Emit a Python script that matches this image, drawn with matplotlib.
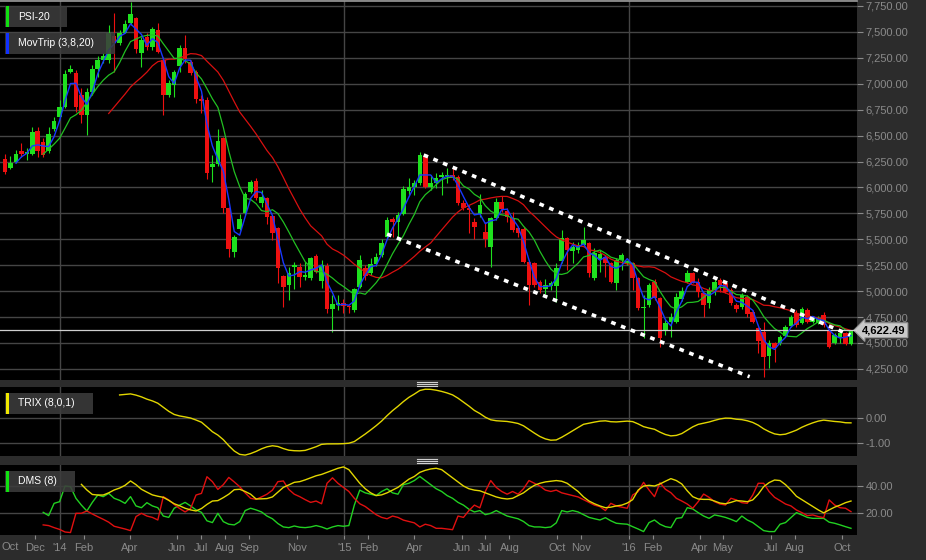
import matplotlib
matplotlib.use("Agg")
import matplotlib.pyplot as plt
import matplotlib.dates as mdates
from matplotlib.patches import Rectangle
from matplotlib.lines import Line2D
from matplotlib.ticker import FixedLocator, FixedFormatter
import numpy as np
import pandas as pd

plt.rcParams['font.family'] = ['Liberation Sans', 'DejaVu Sans']

# weekly PSI-20 candles
dates = pd.date_range("2013-10-23", periods=156, freq="7D")
opens = [6272, 6190, 6250, 6355, 6323, 6323, 6545, 6442, 6352, 6560,
         6677, 6773, 7117, 7107, 6892, 6699, 6924, 7139, 7229, 7229,
         7460, 7390, 7492, 7590, 7632, 7300, 7448, 7358, 7519, 7229,
         6892, 6990, 7171, 7342, 7213, 7117, 6853, 6843, 6201, 6223,
         6474, 5799, 5381, 5600, 5751, 5960, 6063, 5847, 5895, 5725,
         5606, 5146, 5060, 5230, 5236, 5134, 5124, 5339, 5102, 5246,
         4825, 4870, 4885, 4855, 4818, 5044, 5227, 5172, 5262, 5349,
         5519, 5696, 5670, 5744, 5969, 6008, 6040, 6303, 6008, 6047,
         6104, 6110, 6120, 6104, 5853, 5799, 5670, 5744, 5574, 5423,
         5703, 5863, 5777, 5703, 5606, 5597, 5285, 5268, 5092, 5018,
         5050, 5050, 5294, 5510, 5391, 5397, 5445, 5461, 5124, 5301,
         5326, 5268, 5076, 5301, 5270, 5269, 5124, 4835, 4867, 5092,
         4931, 4626, 4706, 4706, 4920, 5092, 5172, 5092, 4979, 4883,
         5012, 5108, 5076, 5012, 4867, 4851, 4947, 4803, 4642, 4610,
         4375, 4497, 4497, 4568, 4664, 4793, 4696, 4819, 4706, 4690,
         4770, 4626, 4504, 4561, 4594, 4487]
highs = [6320, 6300, 6365, 6425, 6380, 6585, 6585, 6475, 6585, 6683,
         6844, 7133, 7181, 7133, 6956, 6956, 7181, 7268, 7300, 7567,
         7680, 7519, 7615, 7792, 7647, 7454, 7486, 7551, 7583, 7262,
         7036, 7133, 7374, 7470, 7229, 7133, 6892, 6876, 6313, 6561,
         6490, 5815, 5542, 5744, 5960, 6072, 6088, 5976, 5911, 5735,
         5622, 5156, 5230, 5285, 5268, 5285, 5333, 5358, 5301, 5268,
         4963, 4963, 4922, 4870, 5028, 5349, 5252, 5317, 5365, 5500,
         5719, 5719, 5767, 6014, 6088, 6072, 6345, 6323, 6120, 6136,
         6153, 6185, 6185, 6120, 5879, 5831, 5703, 5937, 5670, 5719,
         5895, 5918, 5799, 5767, 5622, 5622, 5301, 5285, 5108, 5114,
         5100, 5268, 5590, 5526, 5477, 5477, 5622, 5477, 5413, 5397,
         5349, 5285, 5317, 5365, 5300, 5285, 5140, 4963, 5076, 5114,
         4947, 4722, 4787, 4979, 5037, 5204, 5188, 5124, 4995, 5044,
         5114, 5124, 5092, 5028, 4883, 4979, 4963, 4819, 4658, 4706,
         4529, 4513, 4578, 4674, 4770, 4819, 4844, 4835, 4760, 4760,
         4803, 4642, 4594, 4620, 4610, 4626]
lows = [6130, 6175, 6233, 6297, 6260, 6313, 6297, 6297, 6335, 6548,
        6667, 6763, 7100, 6731, 6619, 6506, 6892, 7069, 7200, 7197,
        7117, 7374, 7487, 7567, 7294, 7165, 7326, 7326, 7294, 6699,
        6876, 6876, 7117, 7197, 7085, 6811, 6715, 6079, 6056, 6207,
        5757, 5326, 5326, 5590, 5735, 5944, 5879, 5815, 5645, 5494,
        5076, 4851, 4915, 5018, 5044, 5108, 5108, 5172, 5028, 4793,
        4610, 4819, 4787, 4790, 4800, 5028, 5108, 5156, 5243, 5333,
        5500, 5526, 5526, 5735, 5928, 5928, 6024, 5992, 5976, 5992,
        5928, 6040, 6072, 5831, 5783, 5558, 5500, 5719, 5429, 5236,
        5687, 5767, 5670, 5574, 5526, 5268, 4867, 5037, 4979, 4973,
        5012, 4899, 5268, 5204, 5275, 5365, 5436, 5134, 5108, 5188,
        5140, 5076, 5012, 5204, 5250, 5012, 4819, 4545, 4851, 4915,
        4465, 4578, 4562, 4690, 4908, 5076, 5076, 4947, 4754, 4835,
        4963, 4995, 4979, 4867, 4803, 4825, 4754, 4690, 4401, 4176,
        4256, 4320, 4481, 4555, 4652, 4658, 4684, 4690, 4690, 4680,
        4658, 4449, 4491, 4504, 4481, 4481]
closes = [6146, 6240, 6320, 6323, 6345, 6532, 6355, 6313, 6513, 6644,
          6773, 7094, 7139, 6780, 6699, 6924, 7139, 7229, 7268, 7486,
          7397, 7486, 7577, 7673, 7332, 7422, 7358, 7525, 7310, 6892,
          7004, 7110, 7342, 7236, 7101, 6853, 6834, 6143, 6223, 6448,
          5799, 5407, 5519, 5693, 5937, 6050, 5895, 5911, 5719, 5558,
          5220, 5044, 5172, 5252, 5140, 5156, 5317, 5188, 5252, 4825,
          4877, 4890, 4855, 4845, 5018, 5301, 5146, 5262, 5333, 5468,
          5686, 5670, 5735, 5982, 6008, 6040, 6313, 6008, 6040, 6088,
          6120, 6120, 6088, 5847, 5799, 5783, 5622, 5831, 5500, 5703,
          5863, 5790, 5719, 5590, 5558, 5285, 5060, 5060, 5012, 5060,
          5082, 5220, 5510, 5397, 5429, 5445, 5494, 5172, 5365, 5358,
          5268, 5092, 5301, 5349, 5290, 5124, 4835, 4851, 5060, 4931,
          4546, 4696, 4754, 4947, 5005, 5178, 5082, 4995, 4867, 5012,
          5092, 5060, 4995, 4889, 4825, 4963, 4777, 4706, 4523, 4369,
          4497, 4449, 4561, 4652, 4748, 4674, 4825, 4706, 4738, 4738,
          4674, 4465, 4578, 4600, 4491, 4622.49]

last_price = 4622.49

# DMS (8) lines, one value per week
di_start = 7
plus_di = [20.7, 18.3, 27.3, 28.5, 40, 39.5, 31, 26, 21.7, 28,
           33.4, 32.2, 34.6, 31, 29.5, 27.3, 32.2, 25.4, 24.1, 27.8,
           25.4, 24.1, 18, 17, 23.7, 26, 28, 25.4, 22.5, 20.7,
           14.5, 13.2, 20, 13.9, 12, 11.5, 13.9, 22, 23.7, 22.5,
           21, 18, 16, 12.5, 10, 9.5, 10.7, 9.8,
           9.5, 10, 11, 10, 8.5, 10, 11, 10.5, 11, 26,
           37, 35, 34, 33, 36, 38, 35, 34, 41, 42,
           44, 47, 44, 41, 38, 36, 33, 31, 28, 26,
           23, 21, 22, 19, 20, 22, 20, 18, 17, 16,
           14, 11, 10, 10, 9.5, 10, 13, 22, 21, 22,
           21, 19, 17, 16,
           15.1, 16.8, 14.5, 12.7, 12.3, 12, 10.2, 8.5, 6.6, 13.2,
           15.1, 12, 10.2, 9.5, 16.3, 16.8, 24.1, 23.2, 20.5, 18,
           16.3, 18.8, 18, 17, 15.6, 13.9, 18, 15.1, 13.2, 10.2,
           7.3, 6.6, 6.6, 12, 13.2, 16.8, 20.5, 18.8, 17, 16.3,
           16.3, 16.3, 13.5, 12.7, 11.5, 10.2, 9]
minus_di = [11.5, 11, 9.5, 8.2, 6.3, 5.9, 20, 20, 21.7, 19.5,
            17.5, 15.6, 13.5, 10.5, 9.5, 8.5, 7.3, 17.6, 20, 18,
            17, 15.1, 32.2, 29.8, 26.5, 23.5, 21, 23.5, 33.4, 34.6,
            46.8, 43.2, 37.5, 41, 46.3, 43, 39.5, 35, 31, 30.2,
            32, 34, 37, 43.2, 43.7, 37.5, 34, 32.2,
            30, 28, 29, 27, 42, 46, 42, 39, 36, 31,
            27, 25, 22, 19, 17, 16, 18, 17, 15, 14,
            13, 10, 12, 11, 9, 9, 8.5, 8, 18, 17,
            22, 26, 24, 36, 44, 39, 36, 34, 36, 34,
            38, 44, 42, 40, 37, 36, 37, 35, 34, 33,
            32, 30, 28, 26,
            24.9, 22, 27.3, 25.4, 24.5, 23.7, 33.4, 35.9, 42.7, 37.1,
            32.2, 42.4, 37.6, 35.1, 31, 29, 26.8, 23.7, 28.5, 34.1,
            31.7, 28.5, 26.8, 26.1, 31, 29.8, 27.8, 27.3, 33.4, 42,
            42, 35.9, 31.7, 29.3, 26.8, 25.4, 22.4, 20.5, 18.3, 18.8,
            17.6, 16.8, 29.8, 26.1, 24.1, 23.7, 21.2]
adx_start = 14
adx = [41.2, 37.1, 33.8, 33.4, 33.4, 35, 37.1, 38.5, 40.5, 43.7,
       41, 37.6, 35.5, 33.5, 32.5, 31.7, 29.5, 27, 25.5, 23.7,
       22.5, 21.7, 23.5, 26.5, 29, 29.3, 31.5, 34, 37.3, 37.6,
       36, 34, 30.5, 30.6, 30.8, 32, 35.5, 39, 40.8, 42.7, 43.2,
       44.5, 46, 47.5, 48.5, 50, 51.5, 53, 54, 52, 47,
       42, 38, 35, 33, 33.5, 35, 37, 39, 42, 45,
       47, 50, 51.5, 52.5, 53, 52, 49, 46, 43, 40,
       38, 37, 36.5, 35, 33.5, 32, 31, 30.5, 31, 33,
       35, 38, 40.5, 42, 43, 43.5, 44, 43.5, 42, 39,
       36, 32, 29, 27,
       25.4, 24.1, 24.5, 25.4, 26, 27.5, 30, 37, 40, 40.5,
       40, 41.5, 43.5, 45.4, 44, 41.5, 36.5, 32.2, 30.5, 30.2,
       30.2, 29, 27.5, 27, 28, 29.3, 29, 28.5, 29.8, 34,
       39.5, 42.5, 44.4, 44, 41, 37, 32.5, 30, 27.5, 25,
       22.5, 20.3, 22.5, 24.5, 26, 27.8, 29]

# channel drawn on the chart (date, price)
upper_channel = (["2015-04-13", "2016-10-11"], [6313, 4577])
lower_channel = (["2015-02-25", "2016-06-04"], [5550, 4175])

price_ticks = list(range(4250, 7751, 250))
trix_ticks = [0.0, -1.0]
dms_ticks = [20.0, 40.0]

month_ticks = ["2013-12-01", "2014-01-01", "2014-02-01", "2014-04-01", "2014-06-01",
               "2014-07-01", "2014-08-01", "2014-09-01", "2014-11-01", "2015-01-01",
               "2015-02-01", "2015-04-01", "2015-06-01", "2015-07-01", "2015-08-01",
               "2015-10-01", "2015-11-01", "2016-01-01", "2016-02-01", "2016-04-01",
               "2016-05-01", "2016-07-01", "2016-08-01", "2016-10-01"]
month_labels = ["Dec", "'14", "Feb", "Apr", "Jun", "Jul", "Aug", "Sep", "Nov", "'15",
                "Feb", "Apr", "Jun", "Jul", "Aug", "Oct", "Nov", "'16", "Feb", "Apr",
                "May", "Jul", "Aug", "Oct"]
year_lines = ["2014-01-01", "2015-01-01", "2016-01-01"]

# colours
BG = '#2c2c2c'
GRID = '#454545'
TXT = '#8a8a8a'
UP = '#1ee01e'
DOWN = '#ee1010'
YELLOW = '#e2d600'

W, H = 926, 560
fig = plt.figure(figsize=(W / 100, H / 100), dpi=100, facecolor=BG)


def box(x0, y0, x1, y1):
    return [x0 / W, 1 - y1 / H, (x1 - x0) / W, (y1 - y0) / H]


ax = fig.add_axes(box(0, 1, 857, 380))
ax_t = fig.add_axes(box(0, 387, 857, 456), sharex=ax)
ax_d = fig.add_axes(box(0, 465, 857, 535), sharex=ax)

x = mdates.date2num(dates)
o, h, l, c = (np.array(v, dtype=float) for v in (opens, highs, lows, closes))
cols = np.where(c >= o, UP, DOWN)

# candles
ax.vlines(x, l, h, colors=cols, lw=0.8, zorder=2)
ax.bar(x, np.maximum(np.abs(c - o), 8), bottom=np.minimum(o, c), width=5.9,
       color=cols, linewidth=0, zorder=3)

# MovTrip (3,8,20)
s = pd.Series(c)
ax.plot(x, s.rolling(20).mean(), color='#d81010', lw=0.9, zorder=4)
ax.plot(x, s.rolling(8).mean(), color='#22c022', lw=0.9, zorder=4)
ax.plot(x, s.rolling(3).mean(), color='#1838ff', lw=1.0, zorder=5)

# channel
for d, p in (upper_channel, lower_channel):
    ax.plot(mdates.date2num(pd.to_datetime(d)), p, color='white', lw=2.6,
            dashes=(1.3, 1.6), solid_capstyle='butt', zorder=6)

ax.axhline(last_price, color='#cfcfcf', lw=0.9, zorder=4)
ax.annotate(f"{last_price:,.2f}", xy=(1.0, last_price),
            xycoords=('axes fraction', 'data'), xytext=(3.5, 0),
            textcoords='offset points', ha='left', va='center', fontsize=8,
            fontweight='bold', color='black', annotation_clip=False,
            bbox=dict(boxstyle='larrow,pad=0.22', fc='#c9c9c9', ec='#9a9a9a', lw=0.8))

# TRIX (8,0,1) from the closes
e1 = s.ewm(span=8, adjust=False).mean()
e2 = e1.ewm(span=8, adjust=False).mean()
e3 = e2.ewm(span=8, adjust=False).mean()
trix = e3.pct_change() * 100
trix[:21] = np.nan
ax_t.plot(x, trix, color=YELLOW, lw=1.0)

# DMS (8)
ax_d.plot(x[di_start:], plus_di, color='#22d022', lw=1.0)
ax_d.plot(x[di_start:], minus_di, color='#e01010', lw=1.0)
ax_d.plot(x[adx_start:], adx, color=YELLOW, lw=1.0)

# axes styling
ax.set_xlim(x[0] - 6.4, x[-1] + 7.7)
ax.set_ylim(4143, 7798)
ax_t.set_ylim(-1.51, 1.21)
ax_d.set_ylim(4.1, 55.4)

for a, ticks, fmt in ((ax, price_ticks, lambda v: f"{v:,.2f}"),
                      (ax_t, trix_ticks, lambda v: f"{v:.2f}"),
                      (ax_d, dms_ticks, lambda v: f"{v:.2f}")):
    a.set_facecolor('black')
    for sp in a.spines.values():
        sp.set_visible(False)
    a.yaxis.tick_right()
    a.yaxis.set_major_locator(FixedLocator(ticks))
    a.yaxis.set_major_formatter(FixedFormatter([fmt(v) for v in ticks]))
    a.tick_params(axis='y', colors=TXT, labelsize=8, length=4, width=0.8, pad=2)
    a.grid(axis='y', color=GRID, lw=1.0)
    a.set_axisbelow(True)
    for d in year_lines:
        a.axvline(mdates.date2num(pd.Timestamp(d)), color=GRID, lw=1.0, zorder=0.5)

ax.spines['top'].set_visible(True)
ax.spines['top'].set_color('#9a9a9a')
ax.spines['top'].set_linewidth(1.2)

for a in (ax, ax_t):
    a.tick_params(axis='x', length=0, labelbottom=False)
ax_d.xaxis.set_major_locator(FixedLocator(mdates.date2num(pd.to_datetime(month_ticks))))
ax_d.xaxis.set_major_formatter(FixedFormatter(month_labels))
ax_d.tick_params(axis='x', colors=TXT, labelsize=8, length=3, width=0.8, pad=3)
fig.text(1 / W, 1 - 547 / H, "Oct", color=TXT, fontsize=8, ha='left', va='center')

# divider grips
for yc in (383.5, 461):
    for dy in (-2, 0, 2):
        fig.add_artist(Line2D([417 / W, 437 / W], [1 - (yc + dy) / H] * 2,
                              color='#d0d0d0', lw=0.8))


def legend_box(x0p, y0p, x1p, y1p, colour, text):
    fig.add_artist(Rectangle((x0p / W, 1 - y1p / H), (x1p - x0p) / W, (y1p - y0p) / H,
                             transform=fig.transFigure, fc='#3c3c3c', ec='none',
                             alpha=0.88, zorder=10))
    fig.add_artist(Rectangle(((x0p + 1) / W, 1 - y1p / H), 2.6 / W, (y1p - y0p) / H,
                             transform=fig.transFigure, fc=colour, ec='none', zorder=11))
    fig.text((x0p + 13) / W, 1 - (y0p + y1p) / 2 / H, text, color='white',
             fontsize=7.5, ha='left', va='center', zorder=12)


legend_box(5, 6, 67, 27, '#10e010', "PSI-20")
legend_box(5, 33, 115, 54, '#1030ff', "MovTrip (3,8,20)")
legend_box(5, 393, 93, 414, '#f0e800', "TRIX (8,0,1)")
legend_box(5, 471, 75, 492, '#10e010', "DMS (8)")

fig.savefig("out.png", dpi=100, facecolor=BG)
